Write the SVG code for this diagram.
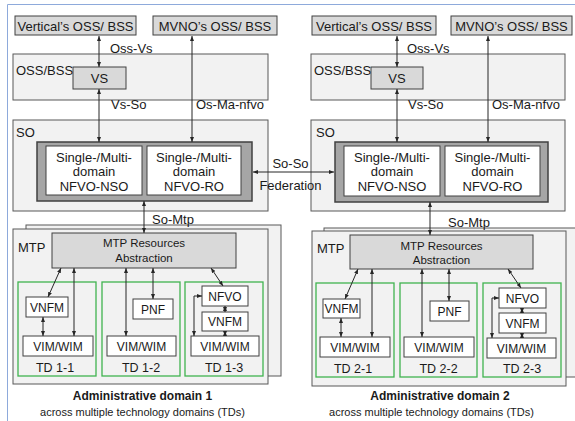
<svg xmlns="http://www.w3.org/2000/svg" width="575" height="421" viewBox="0 0 575 421">
<defs>
<marker id="ah" viewBox="0 0 10 8" refX="10" refY="4" markerWidth="5" markerHeight="4" orient="auto-start-reverse" markerUnits="userSpaceOnUse"><path d="M0,0 L10,4 L0,8 z" fill="#262626"/></marker>
<style>
text{font-family:"Liberation Sans",Arial,sans-serif;fill:#1a1a1a}
.panel{fill:#f2f2f2;stroke:#595959;stroke-width:1}
.gbox{fill:#d9d9d9;stroke:#404040;stroke-width:1}
.dbox{fill:#a6a6a6;stroke:#404040;stroke-width:1.5}
.wbox{fill:#ffffff;stroke:#404040;stroke-width:1}
.td{fill:none;stroke:#3fb34f;stroke-width:1.3}
.c{text-anchor:middle}
.f13{font-size:13px}
.f12{font-size:12.5px}
.f11{font-size:11.5px}
.f115{font-size:12px}
.b{font-weight:bold;font-size:12px}
.s{font-size:11px}
.conn line,.conn path{stroke:#262626;stroke-width:1;fill:none;marker-start:url(#ah);marker-end:url(#ah)}
</style>
</defs>
<rect x="0" y="0" width="575" height="421" fill="#ffffff"/>
<g id="frame" stroke="#8eaadb" stroke-width="1"><line x1="7.5" y1="4.5" x2="575" y2="4.5"/><line x1="7.5" y1="4.5" x2="7.5" y2="421"/></g>

<!-- Left domain -->
<g id="L-vert-oss"><rect class="gbox" x="15" y="16" width="121" height="19"/><text class="c f13" x="75.5" y="30.5">Vertical’s OSS/ BSS</text></g>
<g id="L-mvno-oss"><rect class="gbox" x="153" y="16" width="124" height="19"/><text class="c f13" x="215" y="30.5">MVNO’s OSS/ BSS</text></g>
<g id="L-ossbss"><rect class="panel" x="13" y="54" width="255" height="46"/><text class="f13" x="16" y="75">OSS/BSS</text></g>
<g id="L-vs"><rect class="gbox" x="73" y="67" width="53" height="22"/><text class="c f13" x="99.5" y="82.5">VS</text></g>
<g id="L-so"><rect class="panel" x="13" y="120" width="255" height="91"/><text class="f13" x="16" y="137">SO</text></g>
<g id="L-nfvo"><rect class="dbox" x="37" y="142" width="215" height="59"/></g>
<g id="L-nso"><rect class="wbox" x="46" y="146" width="96" height="49"/><text class="c f13" x="94" y="161.5">Single-/Multi-</text><text class="c f13" x="94" y="176">domain</text><text class="c f13" x="94" y="190.5">NFVO-NSO</text></g>
<g id="L-ro"><rect class="wbox" x="147" y="146" width="94" height="49"/><text class="c f13" x="194" y="161.5">Single-/Multi-</text><text class="c f13" x="194" y="176">domain</text><text class="c f13" x="194" y="190.5">NFVO-RO</text></g>
<g id="L-mtp"><rect class="panel" x="26" y="225" width="255" height="151"/><rect class="panel" x="13" y="229" width="255" height="155"/><text class="f13" x="18" y="252">MTP</text></g>
<g id="L-mtpra"><rect class="gbox" x="52" y="233" width="184" height="35"/><text class="c f11" x="144" y="247">MTP Resources</text><text class="c f11" x="144" y="262">Abstraction</text></g>
<g id="L-td11"><rect class="td" x="18" y="282" width="78" height="94"/><text class="c f12" x="55" y="372">TD 1-1</text></g>
<g id="L-td12"><rect class="td" x="102" y="282" width="78" height="94"/><text class="c f12" x="141" y="372">TD 1-2</text></g>
<g id="L-td13"><rect class="td" x="185" y="282" width="78" height="94"/><text class="c f12" x="224" y="372">TD 1-3</text></g>
<g id="L-vnfm1"><rect class="wbox" x="26" y="297" width="42" height="20"/><text class="c f115" x="47" y="311.5">VNFM</text></g>
<g id="L-vim1"><rect class="wbox" x="23" y="336" width="70" height="20"/><text class="c f115" x="58" y="350.5">VIM/WIM</text></g>
<g id="L-pnf"><rect class="wbox" x="133" y="299" width="40" height="20"/><text class="c f115" x="153" y="313.5">PNF</text></g>
<g id="L-vim2"><rect class="wbox" x="107" y="336" width="69" height="20"/><text class="c f115" x="141.5" y="350.5">VIM/WIM</text></g>
<g id="L-nfvo3"><rect class="wbox" x="202" y="286" width="46" height="20"/><text class="c f115" x="225" y="300.5">NFVO</text></g>
<g id="L-vnfm3"><rect class="wbox" x="202" y="312" width="46" height="19"/><text class="c f115" x="225" y="326">VNFM</text></g>
<g id="L-vim3"><rect class="wbox" x="191" y="336" width="68" height="20"/><text class="c f115" x="225" y="350.5">VIM/WIM</text></g>
<g id="L-caption"><text class="c b" x="142.5" y="400">Administrative domain 1</text><text class="c s" x="142.5" y="416">across multiple technology domains (TDs)</text></g>

<!-- Right domain -->
<g id="R-vert-oss"><rect class="gbox" x="312" y="16" width="124" height="19"/><text class="c f13" x="374" y="30.5">Vertical’s OSS/ BSS</text></g>
<g id="R-mvno-oss"><rect class="gbox" x="451" y="16" width="121" height="19"/><text class="c f13" x="511.5" y="30.5">MVNO’s OSS/ BSS</text></g>
<g id="R-ossbss"><rect class="panel" x="311" y="54" width="254" height="46"/><text class="f13" x="314" y="75">OSS/BSS</text></g>
<g id="R-vs"><rect class="gbox" x="371" y="67" width="52" height="22"/><text class="c f13" x="397" y="82.5">VS</text></g>
<g id="R-so"><rect class="panel" x="311" y="120" width="254" height="91"/><text class="f13" x="316" y="137">SO</text></g>
<g id="R-nfvo"><rect class="dbox" x="335" y="142" width="213" height="60"/></g>
<g id="R-nso"><rect class="wbox" x="344" y="146" width="96" height="50"/><text class="c f13" x="392" y="161.5">Single-/Multi-</text><text class="c f13" x="392" y="176">domain</text><text class="c f13" x="392" y="190.5">NFVO-NSO</text></g>
<g id="R-ro"><rect class="wbox" x="445" y="146" width="95" height="50"/><text class="c f13" x="492.5" y="161.5">Single-/Multi-</text><text class="c f13" x="492.5" y="176">domain</text><text class="c f13" x="492.5" y="190.5">NFVO-RO</text></g>
<g id="R-mtp"><rect class="panel" x="324" y="228" width="262" height="149"/><rect class="panel" x="312" y="231" width="254" height="155"/><text class="f13" x="317" y="253">MTP</text></g>
<g id="R-mtpra"><rect class="gbox" x="350" y="235" width="183" height="34"/><text class="c f11" x="441.5" y="249.5">MTP Resources</text><text class="c f11" x="441.5" y="264">Abstraction</text></g>
<g id="R-td21"><rect class="td" x="316" y="283" width="78" height="94"/><text class="c f12" x="353" y="372.5">TD 2-1</text></g>
<g id="R-td22"><rect class="td" x="400" y="283" width="77" height="94"/><text class="c f12" x="438.5" y="372.5">TD 2-2</text></g>
<g id="R-td23"><rect class="td" x="483" y="283" width="78" height="94"/><text class="c f12" x="522" y="372.5">TD 2-3</text></g>
<g id="R-vnfm1"><rect class="wbox" x="323" y="299" width="37" height="19"/><text class="c f115" x="341.5" y="313">VNFM</text></g>
<g id="R-vim1"><rect class="wbox" x="320" y="337" width="70" height="20"/><text class="c f115" x="355" y="351.5">VIM/WIM</text></g>
<g id="R-pnf"><rect class="wbox" x="430" y="301" width="39" height="20"/><text class="c f115" x="449.5" y="315.5">PNF</text></g>
<g id="R-vim2"><rect class="wbox" x="404" y="337" width="70" height="20"/><text class="c f115" x="439" y="351.5">VIM/WIM</text></g>
<g id="R-nfvo3"><rect class="wbox" x="499" y="288" width="47" height="20"/><text class="c f115" x="522.5" y="302.5">NFVO</text></g>
<g id="R-vnfm3"><rect class="wbox" x="499" y="313" width="47" height="20"/><text class="c f115" x="522.5" y="327.5">VNFM</text></g>
<g id="R-vim3"><rect class="wbox" x="487" y="338" width="69" height="20"/><text class="c f115" x="521.5" y="352.5">VIM/WIM</text></g>
<g id="R-caption"><text class="c b" x="440" y="400">Administrative domain 2</text><text class="c s" x="431.5" y="416">across multiple technology domains (TDs)</text></g>

<g id="connectors" class="conn">
<line x1="99" y1="36" x2="99" y2="67"/>
<line x1="192" y1="36" x2="192" y2="142"/>
<line x1="99" y1="89" x2="99" y2="142"/>
<line x1="253" y1="172" x2="334" y2="172"/>
<line x1="144" y1="201" x2="144" y2="233"/>
<line x1="61" y1="268" x2="48" y2="297"/>
<line x1="74" y1="268" x2="74" y2="336"/>
<line x1="43" y1="317" x2="43" y2="336"/>
<line x1="126" y1="268" x2="126" y2="336"/>
<line x1="153" y1="268" x2="153" y2="299"/>
<line x1="211" y1="268" x2="223" y2="286"/>
<line x1="225" y1="306" x2="225" y2="312"/>
<line x1="225" y1="331" x2="225" y2="336"/>
<path d="M202,296 L194,296 L194,336"/>
<line x1="397" y1="36" x2="397" y2="67"/>
<line x1="488" y1="36" x2="488" y2="142"/>
<line x1="397" y1="89" x2="397" y2="142"/>
<line x1="430" y1="202" x2="430" y2="235"/>
<line x1="358" y1="269" x2="345" y2="299"/>
<line x1="372" y1="269" x2="372" y2="337"/>
<line x1="341" y1="318" x2="341" y2="337"/>
<line x1="422" y1="269" x2="422" y2="337"/>
<line x1="449" y1="269" x2="449" y2="301"/>
<line x1="508" y1="269" x2="521" y2="288"/>
<line x1="522" y1="308" x2="522" y2="313"/>
<line x1="522" y1="333" x2="522" y2="338"/>
<path d="M499,298 L492,298 L492,338"/>
</g>
<g id="labels">
<text class="f13" x="110" y="52.5">Oss-Vs</text>
<text class="f13" x="407" y="52.5">Oss-Vs</text>
<text class="f13" x="111" y="109">Vs-So</text>
<text class="f13" x="196" y="109">Os-Ma-nfvo</text>
<text class="f13" x="408" y="109">Vs-So</text>
<text class="f13" x="492" y="109">Os-Ma-nfvo</text>
<text class="c f13" x="290.5" y="168">So-So</text>
<text class="c f13" x="290.5" y="190">Federation</text>
<text class="f13" x="152" y="224">So-Mtp</text>
<text class="f13" x="448" y="227">So-Mtp</text>
</g>
</svg>
